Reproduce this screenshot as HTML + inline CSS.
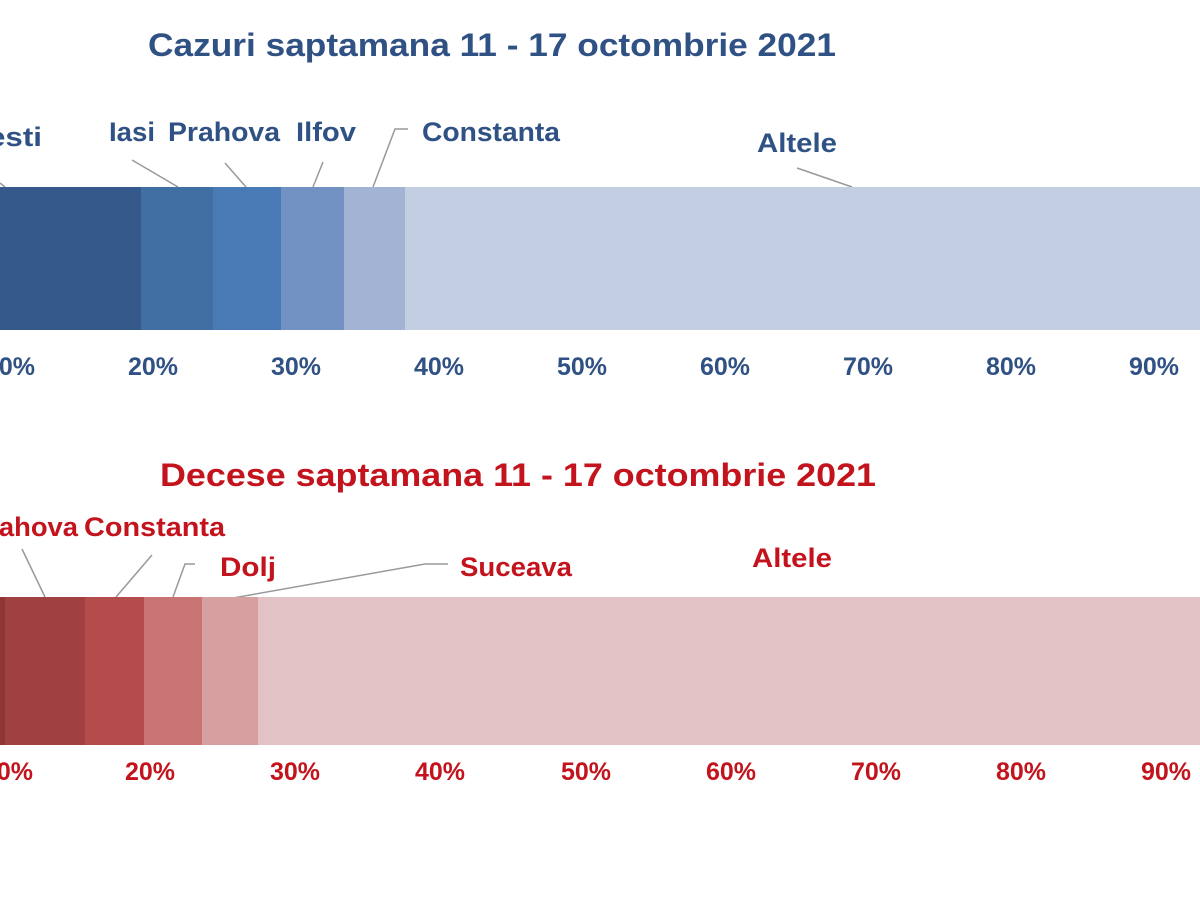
<!DOCTYPE html>
<html><head><meta charset="utf-8"><style>
html,body{margin:0;padding:0;background:#fff;}
svg{display:block}
text{font-family:"Liberation Sans",sans-serif;font-weight:bold;}
</style></head><body>
<svg width="1200" height="900" viewBox="0 0 1200 900" xmlns="http://www.w3.org/2000/svg">
<rect width="1200" height="900" fill="#fff"/>
<!-- Top chart -->
<text x="148" y="56" font-size="32" fill="#2f5184" textLength="688" lengthAdjust="spacingAndGlyphs">Cazuri saptamana 11 - 17 octombrie 2021</text>
<g fill="#2f5184" font-size="27">
<text x="-12" y="146" textLength="54" lengthAdjust="spacingAndGlyphs">esti</text>
<text x="109" y="141" textLength="46" lengthAdjust="spacingAndGlyphs">Iasi</text>
<text x="168" y="141" textLength="112" lengthAdjust="spacingAndGlyphs">Prahova</text>
<text x="296" y="141" textLength="60" lengthAdjust="spacingAndGlyphs">Ilfov</text>
<text x="422" y="141" textLength="138" lengthAdjust="spacingAndGlyphs">Constanta</text>
<text x="757" y="152" textLength="80" lengthAdjust="spacingAndGlyphs">Altele</text>
</g>
<g stroke="#999" stroke-width="1.5" fill="none">
<polyline points="0,183 5,187"/>
<polyline points="132,160 178,187"/>
<polyline points="225,163 246,187"/>
<polyline points="323,162 313,187"/>
<polyline points="408,129 395,129 373,187"/>
<polyline points="797,168 852,187"/>
</g>
<rect x="0" y="187" width="141" height="143" fill="#34598a"/>
<rect x="141" y="187" width="72" height="143" fill="#426fa3"/>
<rect x="213" y="187" width="68" height="143" fill="#4a7ab5"/>
<rect x="281" y="187" width="63" height="143" fill="#7291c3"/>
<rect x="344" y="187" width="61" height="143" fill="#a3b3d4"/>
<rect x="405" y="187" width="795" height="143" fill="#c4cee3"/>
<g fill="#2f5184" font-size="25" text-anchor="middle">
<text x="10" y="375">10%</text>
<text x="153" y="375">20%</text>
<text x="296" y="375">30%</text>
<text x="439" y="375">40%</text>
<text x="582" y="375">50%</text>
<text x="725" y="375">60%</text>
<text x="868" y="375">70%</text>
<text x="1011" y="375">80%</text>
<text x="1154" y="375">90%</text>
</g>
<!-- Bottom chart -->
<text x="160" y="486" font-size="32" fill="#c3131c" textLength="716" lengthAdjust="spacingAndGlyphs">Decese saptamana 11 - 17 octombrie 2021</text>
<g fill="#c3131c" font-size="27">
<text x="-30" y="536" textLength="108" lengthAdjust="spacingAndGlyphs">Prahova</text>
<text x="84" y="536" textLength="141" lengthAdjust="spacingAndGlyphs">Constanta</text>
<text x="220" y="576" textLength="56" lengthAdjust="spacingAndGlyphs">Dolj</text>
<text x="460" y="576" textLength="112" lengthAdjust="spacingAndGlyphs">Suceava</text>
<text x="752" y="567" textLength="80" lengthAdjust="spacingAndGlyphs">Altele</text>
</g>
<g stroke="#999" stroke-width="1.5" fill="none">
<polyline points="22,549 45,597"/>
<polyline points="152,555 116,597"/>
<polyline points="195,564 185,564 173,597"/>
<polyline points="448,564 425,564 233,598"/>
</g>
<rect x="0" y="597" width="5" height="148" fill="#8e3535"/>
<rect x="5" y="597" width="80" height="148" fill="#a04040"/>
<rect x="85" y="597" width="59" height="148" fill="#b44c4c"/>
<rect x="144" y="597" width="58" height="148" fill="#c87474"/>
<rect x="202" y="597" width="56" height="148" fill="#d6a0a0"/>
<rect x="258" y="597" width="942" height="148" fill="#e2c2c4"/>
<g fill="#c3131c" font-size="25" text-anchor="middle">
<text x="8" y="780">10%</text>
<text x="150" y="780">20%</text>
<text x="295" y="780">30%</text>
<text x="440" y="780">40%</text>
<text x="586" y="780">50%</text>
<text x="731" y="780">60%</text>
<text x="876" y="780">70%</text>
<text x="1021" y="780">80%</text>
<text x="1166" y="780">90%</text>
</g>
</svg>
</body></html>
